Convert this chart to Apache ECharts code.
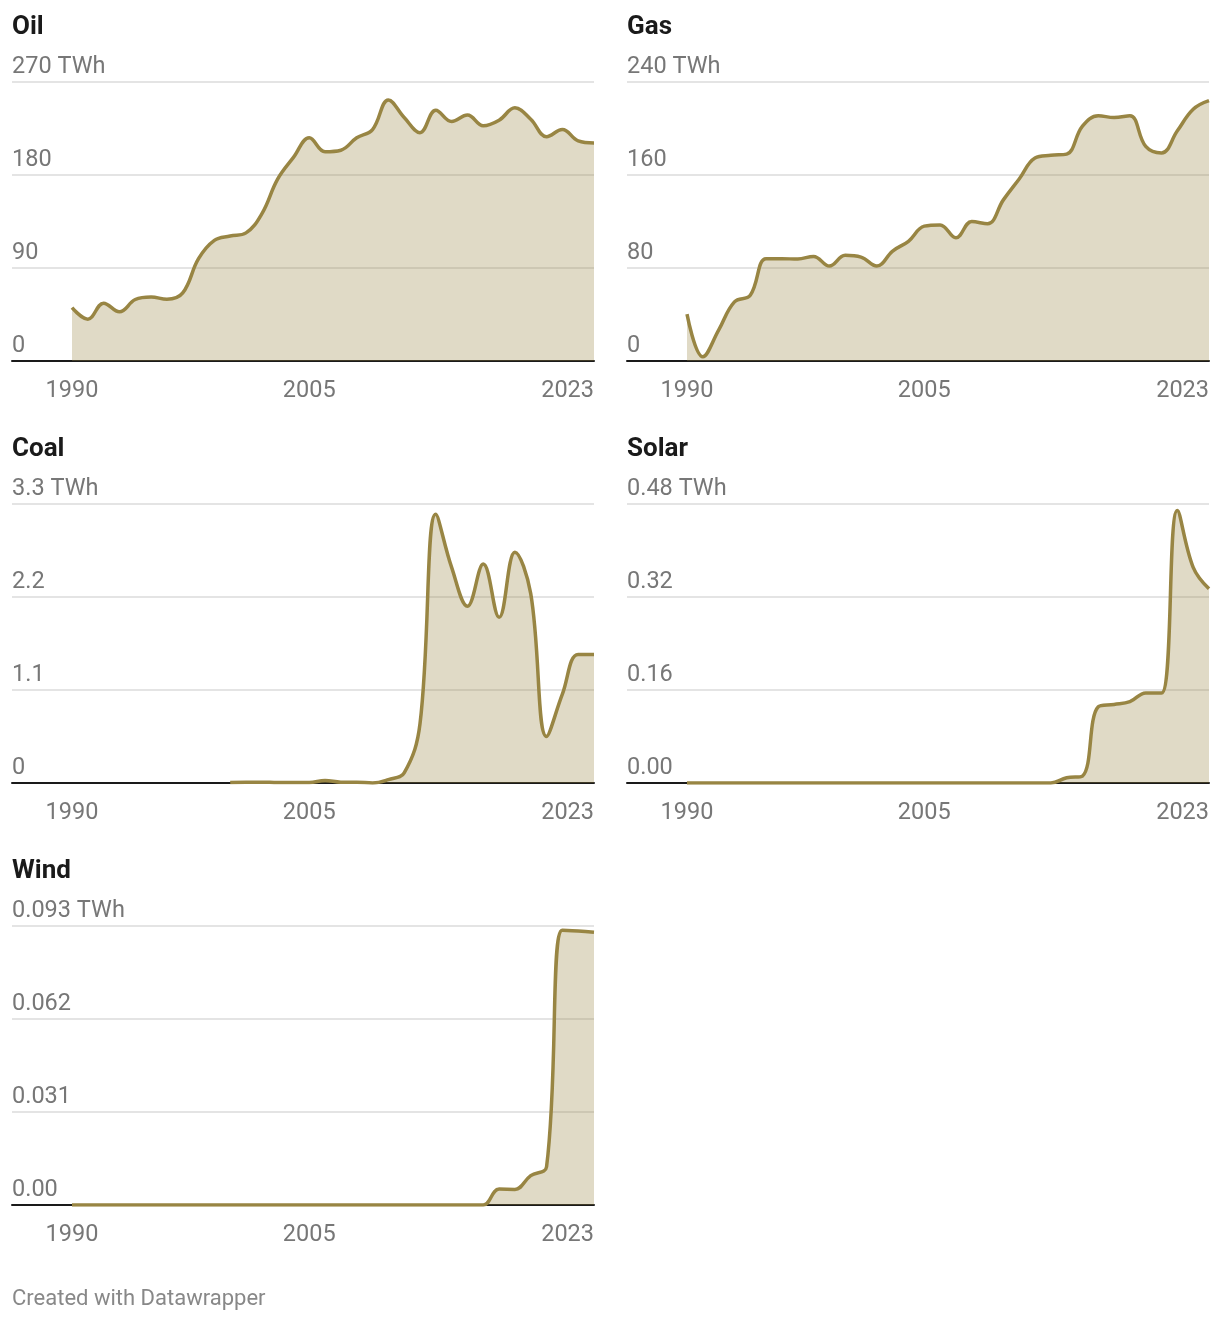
<!DOCTYPE html>
<html>
<head>
<meta charset="utf-8">
<script src="https://cdn.jsdelivr.net/npm/echarts@6/dist/echarts.min.js"></script>
<style>
html,body{margin:0;padding:0;background:#fff;}
#chart{width:1220px;height:1322px;}
</style>
</head>
<body>
<div id="chart"></div>
<script>
const years = [1990,1991,1992,1993,1994,1995,1996,1997,1998,1999,2000,2001,2002,2003,2004,2005,2006,2007,2008,2009,2010,2011,2012,2013,2014,2015,2016,2017,2018,2019,2020,2021,2022,2023];

const oil = [51.7,40.5,56,47.6,59.5,62,59.8,65.9,99,116.7,120.9,124,142.4,176,197,216,202.5,204,216,224,252.6,235.6,221,242.7,231.8,238,227.6,233,245,234,217,224,213,211];
const gas = [40.3,3.7,26.6,50.9,56.6,88,88,87.7,90,81.7,90.9,89.4,81.7,94.6,103,116,117,106,120,118,138.6,156.6,174.6,177,178,202,211,209.4,211,184.6,179,198,216.6,224];
const coal = [null,null,null,null,null,null,null,null,null,null,0.005,0.01,0.01,0.005,0.005,0.005,0.03,0.01,0.01,0.0,0.04,0.12,0.7,3.18,2.55,2.09,2.59,1.96,2.73,2.24,0.55,1.05,1.52,1.52];
const solar = [0,0,0,0,0,0,0,0,0,0,0,0,0,0,0,0,0,0,0,0,0,0,0,0,0.009,0.012,0.131,0.135,0.14,0.155,0.155,0.469,0.371,0.334];
const wind = [0,0,0,0,0,0,0,0,0,0,0,0,0,0,0,0,0,0,0,0,0,0,0,0,0,0,0,0.0053,0.0052,0.0098,0.0127,0.0916,0.0913,0.0909];

const titles = ['Oil','Gas','Coal','Solar','Wind'];
const oilTicks = ['0','90','180','270 TWh'];
const gasTicks = ['0','80','160','240 TWh'];
const coalTicks = ['0','1.1','2.2','3.3 TWh'];
const solarTicks = ['0.00','0.16','0.32','0.48 TWh'];
const windTicks = ['0.00','0.031','0.062','0.093 TWh'];
const yMax = [270,240,3.3,0.48,0.093];
const yStep = [90,80,1.1,0.16,0.031];
const xLabelYears = [1990,2005,2023];

const seriesVals = [oil,gas,coal,solar,wind];
const tickSets = [oilTicks,gasTicks,coalTicks,solarTicks,windTicks];

const LINE = '#988543';
const FONT = 'Roboto';
const colLeft = [12,627];
const rowTop = [82,504,926];
const plotW = 582, plotH = 279;
const xMin = 1990 - 60/ (522/33);

const grids = [], xAxes = [], yAxes = [], series = [], titleArr = [];
seriesVals.forEach((vals,i)=>{
  const col = i % 2, row = Math.floor(i/2);
  const left = colLeft[col], top = rowTop[row];
  grids.push({left:left, top:top, width:plotW, height:plotH, containLabel:false, outerBoundsMode:'none'});
  xAxes.push({
    type:'value', gridIndex:i, min:xMin, max:2023,
    splitLine:{show:false},
    axisTick:{show:false},
    axisLine:{show:true, onZero:false, lineStyle:{color:'#1a1a1a', width:2}},
    axisLabel:{
      customValues:xLabelYears, showMinLabel:true, showMaxLabel:true,
      alignMaxLabel:'right', hideOverlap:false,
      color:'#777', fontSize:23.5, fontFamily:FONT, margin:18,
      formatter:(v)=>String(v)
    }
  });
  const ticks = tickSets[i], step = yStep[i];
  yAxes.push({
    type:'value', gridIndex:i, min:0, max:yMax[i], interval:step,
    axisLine:{show:false}, axisTick:{show:false},
    splitLine:{show:true, lineStyle:{color:'#e4e4e4', width:2}},
    axisLabel:{
      inside:true, margin:0, align:'left', verticalAlign:'bottom',
      padding:[0,0,3,0], lineHeight:23,
      color:'#777', fontSize:23.5, fontFamily:FONT,
      formatter:(v)=>{ const k=Math.round(v/step); return ticks[k] !== undefined ? ticks[k] : ''; }
    }
  });
  series.push({
    type:'line', xAxisIndex:i, yAxisIndex:i,
    data: years.map((y,j)=>[y, vals[j]]),
    smooth:0.4, showSymbol:false, connectNulls:false,
    lineStyle:{color:LINE, width:3.5},
    areaStyle:{color:LINE, opacity:0.3},
    silent:true, animation:false, z:3
  });
  titleArr.push({
    text:titles[i], left:left, top:top-68, padding:0,
    textStyle:{fontSize:26, fontWeight:'bold', color:'#1a1a1a', fontFamily:FONT}
  });
});

const chart = echarts.init(document.getElementById('chart'), null, {renderer:'canvas'});
chart.setOption({
  animation:false,
  backgroundColor:'#fff',
  title:titleArr,
  grid:grids, xAxis:xAxes, yAxis:yAxes, series:series,
  graphic:[{
    type:'text', left:12, top:1288,
    style:{text:'Created with Datawrapper', fill:'#888', fontSize:22, fontFamily:FONT}
  }]
});
</script>
</body>
</html>
